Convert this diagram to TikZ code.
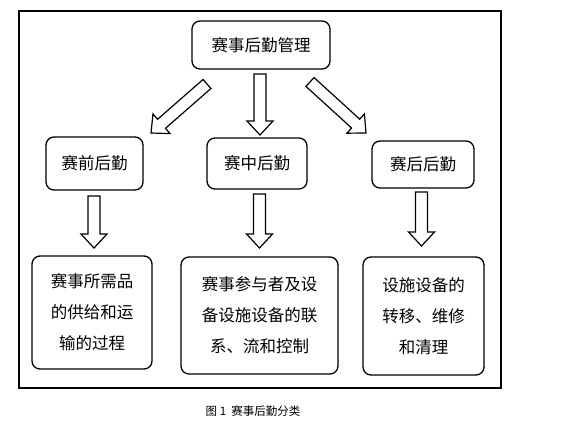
\documentclass[tikz,border=0pt]{standalone}
\usepackage{fontspec}
\setmainfont{Noto Sans CJK SC}
\usetikzlibrary{calc}
\newcommand\blockarrow[2]{%
  \draw[blk] let \p1=(#1), \p2=(#2), \n1={atan2(\y2-\y1,\x2-\x1)} in
    ($(\p1)+({\n1+90}:6pt)$) -- ($(\p2)+({\n1}:-14pt)+({\n1+90}:6pt)$)
    -- ($(\p2)+({\n1}:-14pt)+({\n1+90}:13pt)$) -- (\p2)
    -- ($(\p2)+({\n1}:-14pt)+({\n1-90}:13pt)$) -- ($(\p2)+({\n1}:-14pt)+({\n1-90}:6pt)$)
    -- ($(\p1)+({\n1-90}:6pt)$) -- cycle;}
\begin{document}
\begin{tikzpicture}[x=1pt,y=-1pt,
  box/.style={draw, line width=1.3pt, rounded corners=8pt, align=center, inner sep=0pt,
    font=\fontsize{16.5}{31}\selectfont},
  blk/.style={draw, line width=1.2pt, fill=white, line join=miter},
  frame/.style={draw, line width=1.2pt}]
\useasboundingbox (0,0) rectangle (580,421);
\draw[frame] (19,11) rectangle (501,388);
\node[box, minimum width=138pt, minimum height=48pt] (top) at (261,45) {赛事后勤管理};
\node[box, minimum width=97pt, minimum height=53pt] (L1) at (94.5,163.5) {赛前后勤};
\node[box, minimum width=100pt, minimum height=51pt] (M1) at (257,163.5) {赛中后勤};
\node[box, minimum width=102pt, minimum height=47pt] (R1) at (423,164.5) {赛后后勤};
\node[box, minimum width=120pt, minimum height=113pt] (L2) at (92,312.5) {赛事所需品\\的供给和运\\输的过程};
\node[box, minimum width=157pt, minimum height=117pt] (M2) at (259.5,315.5) {赛事参与者及设\\备设施设备的联\\系、流和控制};
\node[box, minimum width=121pt, minimum height=118pt] (R2) at (423.5,316) {设施设备的\\转移、维修\\和清理};
\coordinate (tL) at (207,84);  \coordinate (hL) at (151,133);
\coordinate (tM) at (260,74);  \coordinate (hM) at (260,135);
\coordinate (tR) at (310,82);  \coordinate (hR) at (366,133);
\coordinate (aL) at (94,196);  \coordinate (bL) at (94,248);
\coordinate (aM) at (259.5,194); \coordinate (bM) at (259.5,248);
\coordinate (aR) at (421.5,192); \coordinate (bR) at (421.5,246);
\blockarrow{tL}{hL}
\blockarrow{tM}{hM}
\blockarrow{tR}{hR}
\blockarrow{aL}{bL}
\blockarrow{aM}{bM}
\blockarrow{aR}{bR}
\node[font=\fontsize{11.5}{13}\selectfont] (cap) at (253,411) {图\ 1\ \ 赛事后勤分类};
\end{tikzpicture}
\end{document}
